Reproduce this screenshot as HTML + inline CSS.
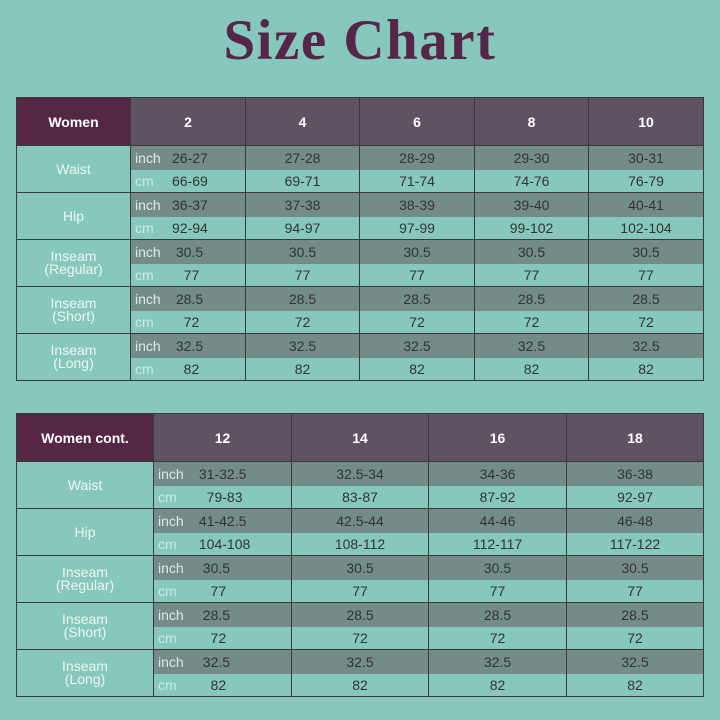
<!DOCTYPE html>
<html><head><style>
body{margin:0;width:720px;height:720px;background:#86c8bb;font-family:"Liberation Sans",sans-serif;position:relative;overflow:hidden}
h1{position:absolute;top:8px;left:0;width:720px;margin:0;text-align:center;font:bold 57px "Liberation Serif",serif;color:#55264a;letter-spacing:1.5px}
table{position:absolute;left:16px;border-collapse:collapse;table-layout:fixed;width:687px}
td{border:1px solid #3a3a3a;padding:0;text-align:center;font-size:14px;color:#333;position:relative}
tr.h td{background:#5f5263;color:#fff;font-weight:bold;font-size:14px}
tr.h td.f{background:#552744}
td.l{color:#eef7f4;font-size:14px;line-height:13px;background:#86c8bb}
tr.i{height:24px}
tr.c{height:23px}
tr.i td.d{background:#738c8a;border-bottom:none}
tr.c td.d{background:#86c8bb;border-top:none}
td.k{text-align:left;padding-left:4px}
td.k span{display:inline-block;width:37px;color:#dfe8e7}
tr.c td.k span{color:#c9ebe4}
</style></head><body>
<h1>Size Chart</h1>
<table style="top:97px">
<colgroup><col style="width:114px"><col style="width:115px"><col style="width:114px"><col style="width:115px"><col style="width:114px"><col style="width:115px"></colgroup>
<tr class="h" style="height:48px"><td class="f">Women</td><td>2</td><td>4</td><td>6</td><td>8</td><td>10</td></tr>
<tr class="i"><td class="l" rowspan="2">Waist</td><td class="d k"><span>inch</span>26-27</td><td class="d">27-28</td><td class="d">28-29</td><td class="d">29-30</td><td class="d">30-31</td></tr>
<tr class="c"><td class="d k"><span>cm</span>66-69</td><td class="d">69-71</td><td class="d">71-74</td><td class="d">74-76</td><td class="d">76-79</td></tr>
<tr class="i"><td class="l" rowspan="2">Hip</td><td class="d k"><span>inch</span>36-37</td><td class="d">37-38</td><td class="d">38-39</td><td class="d">39-40</td><td class="d">40-41</td></tr>
<tr class="c"><td class="d k"><span>cm</span>92-94</td><td class="d">94-97</td><td class="d">97-99</td><td class="d">99-102</td><td class="d">102-104</td></tr>
<tr class="i"><td class="l" rowspan="2">Inseam<br>(Regular)</td><td class="d k"><span>inch</span>&nbsp;30.5</td><td class="d">30.5</td><td class="d">30.5</td><td class="d">30.5</td><td class="d">30.5</td></tr>
<tr class="c"><td class="d k"><span>cm</span>&nbsp;&nbsp;&nbsp;77</td><td class="d">77</td><td class="d">77</td><td class="d">77</td><td class="d">77</td></tr>
<tr class="i"><td class="l" rowspan="2">Inseam<br>(Short)</td><td class="d k"><span>inch</span>&nbsp;28.5</td><td class="d">28.5</td><td class="d">28.5</td><td class="d">28.5</td><td class="d">28.5</td></tr>
<tr class="c"><td class="d k"><span>cm</span>&nbsp;&nbsp;&nbsp;72</td><td class="d">72</td><td class="d">72</td><td class="d">72</td><td class="d">72</td></tr>
<tr class="i"><td class="l" rowspan="2">Inseam<br>(Long)</td><td class="d k"><span>inch</span>&nbsp;32.5</td><td class="d">32.5</td><td class="d">32.5</td><td class="d">32.5</td><td class="d">32.5</td></tr>
<tr class="c"><td class="d k"><span>cm</span>&nbsp;&nbsp;&nbsp;82</td><td class="d">82</td><td class="d">82</td><td class="d">82</td><td class="d">82</td></tr>
</table>
<table style="top:413px">
<colgroup><col style="width:137px"><col style="width:138px"><col style="width:137px"><col style="width:138px"><col style="width:137px"></colgroup>
<tr class="h" style="height:48px"><td class="f">Women cont.</td><td>12</td><td>14</td><td>16</td><td>18</td></tr>
<tr class="i"><td class="l" rowspan="2">Waist</td><td class="d k"><span>inch</span>&nbsp;31-32.5</td><td class="d">32.5-34</td><td class="d">34-36</td><td class="d">36-38</td></tr>
<tr class="c"><td class="d k"><span>cm</span>&nbsp;&nbsp;&nbsp;79-83</td><td class="d">83-87</td><td class="d">87-92</td><td class="d">92-97</td></tr>
<tr class="i"><td class="l" rowspan="2">Hip</td><td class="d k"><span>inch</span>&nbsp;41-42.5</td><td class="d">42.5-44</td><td class="d">44-46</td><td class="d">46-48</td></tr>
<tr class="c"><td class="d k"><span>cm</span>&nbsp;104-108</td><td class="d">108-112</td><td class="d">112-117</td><td class="d">117-122</td></tr>
<tr class="i"><td class="l" rowspan="2">Inseam<br>(Regular)</td><td class="d k"><span>inch</span>&nbsp;&nbsp;30.5</td><td class="d">30.5</td><td class="d">30.5</td><td class="d">30.5</td></tr>
<tr class="c"><td class="d k"><span>cm</span>&nbsp;&nbsp;&nbsp;&nbsp;77</td><td class="d">77</td><td class="d">77</td><td class="d">77</td></tr>
<tr class="i"><td class="l" rowspan="2">Inseam<br>(Short)</td><td class="d k"><span>inch</span>&nbsp;&nbsp;28.5</td><td class="d">28.5</td><td class="d">28.5</td><td class="d">28.5</td></tr>
<tr class="c"><td class="d k"><span>cm</span>&nbsp;&nbsp;&nbsp;&nbsp;72</td><td class="d">72</td><td class="d">72</td><td class="d">72</td></tr>
<tr class="i"><td class="l" rowspan="2">Inseam<br>(Long)</td><td class="d k"><span>inch</span>&nbsp;&nbsp;32.5</td><td class="d">32.5</td><td class="d">32.5</td><td class="d">32.5</td></tr>
<tr class="c"><td class="d k"><span>cm</span>&nbsp;&nbsp;&nbsp;&nbsp;82</td><td class="d">82</td><td class="d">82</td><td class="d">82</td></tr>
</table>
</body></html>
